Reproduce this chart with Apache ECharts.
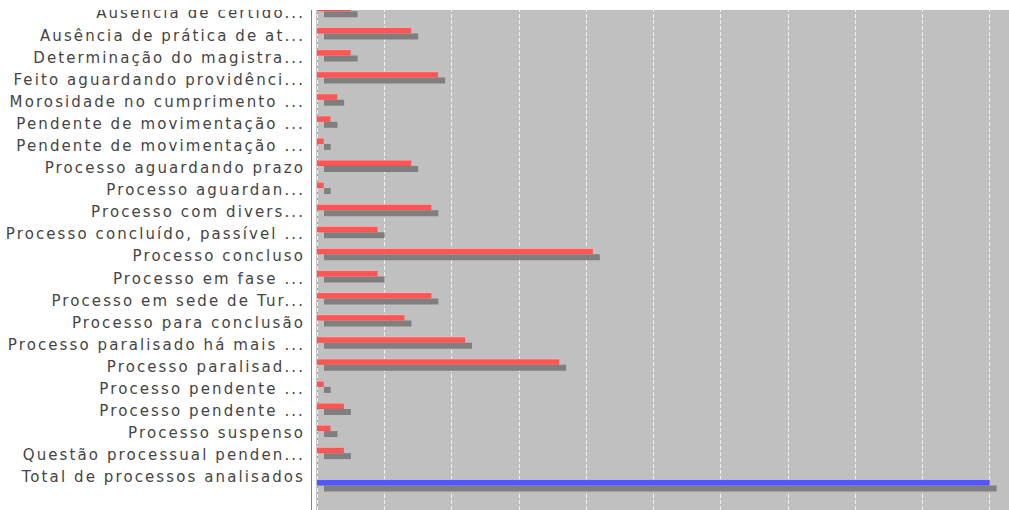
<!DOCTYPE html>
<html>
<head>
<meta charset="utf-8">
<script src="https://cdn.jsdelivr.net/npm/echarts@6/dist/echarts.min.js"></script>
<style>
    html, body { margin: 0; padding: 0; background: #fff; }
    #echarts-main { width: 1009px; height: 510px; }
    /* o gráfico original (Java) tem letras mais espaçadas */
    #echarts-main text { letter-spacing: 2.1px; }
</style>
</head>
<body>
<div id="echarts-main"></div>
<script>
    // categorias (como aparecem no gráfico, já truncadas)
    const categorias = [
        'Ausencia de certido...',
        'Ausência de prática de at...',
        'Determinação do magistra...',
        'Feito aguardando providênci...',
        'Morosidade no cumprimento ...',
        'Pendente de movimentação ...',
        'Pendente de movimentação ...',
        'Processo aguardando prazo',
        'Processo aguardan...',
        'Processo com divers...',
        'Processo concluído, passível ...',
        'Processo concluso',
        'Processo em fase ...',
        'Processo em sede de Tur...',
        'Processo para conclusão',
        'Processo paralisado há mais ...',
        'Processo paralisad...',
        'Processo pendente ...',
        'Processo pendente ...',
        'Processo suspenso',
        'Questão processual penden...',
        'Total de processos analisados'
    ]

    // valores por motivo (série vermelha)
    const valoresMotivo = [5, 14, 5, 18, 3, 2, 1, 14, 1, 17, 9, 41, 9, 17, 13, 22, 36, 1, 4, 2, 4, '-']

    // total (série azul)
    const valoresTotal = ['-', '-', '-', '-', '-', '-', '-', '-', '-', '-', '-', '-', '-', '-', '-', '-', '-', '-', '-', '-', '-', 100]

    const eixoMax = 110
    const eixoIntervalo = 10

    let chartDom = document.getElementById('echarts-main')
    let myChart = echarts.init(chartDom, null, { renderer: 'svg' })

    const gradiente = (claro, base, escuro) => new echarts.graphic.LinearGradient(0, 0, 0, 1, [
        { offset: 0, color: claro },
        { offset: 0.18, color: base },
        { offset: 0.75, color: base },
        { offset: 1, color: escuro }
    ])

    const sombra = {
        shadowColor: '#7f7f7f',
        shadowOffsetX: 7,
        shadowOffsetY: 6,
        shadowBlur: 0
    }

    const option = {
        animation: false,
        graphic: [
            {
                type: 'rect',
                left: 0,
                top: 0,
                z: 100,
                silent: true,
                shape: { width: 1009, height: 10 },
                style: { fill: '#ffffff' }
            }
        ],
        grid: [
            {
                left: 317, top: -10, width: 740, height: 530,
                outerBoundsMode: 'none',
                show: true,
                backgroundColor: '#c0c0c0',
                borderColor: '#8a8a8a',
                borderWidth: 1
            },
            {
                left: 317, top: 2.4, width: 740, height: 486,
                outerBoundsMode: 'none'
            }
        ],
        xAxis: [
            {
                gridIndex: 0,
                type: 'value',
                min: 0,
                max: eixoMax,
                interval: eixoIntervalo,
                axisLine: { show: false },
                axisTick: { show: false },
                axisLabel: { show: false },
                splitLine: {
                    show: true,
                    lineStyle: { color: '#f2f2f2', type: [4, 2], width: 1 }
                }
            },
            {
                gridIndex: 1,
                type: 'value',
                min: 0,
                max: eixoMax,
                interval: eixoIntervalo,
                show: false
            }
        ],
        yAxis: [
            {
                gridIndex: 0,
                type: 'value',
                min: 0,
                max: 1,
                offset: 6,
                axisLine: { show: true, onZero: false, lineStyle: { color: '#808080', width: 1 } },
                axisTick: { show: false },
                axisLabel: { show: false },
                splitLine: { show: false }
            },
            {
                gridIndex: 1,
                type: 'category',
                inverse: true,
                data: categorias,
                axisLine: { show: false },
                axisTick: { show: false },
                axisLabel: {
                    margin: 12,
                    color: '#444444',
                    fontFamily: 'DejaVu Sans',
                    fontSize: 15
                }
            }
        ],
        series: [
            {
                name: 'Motivo',
                type: 'bar',
                xAxisIndex: 1,
                yAxisIndex: 1,
                barWidth: 6,
                barGap: '70%',
                clip: false,
                data: valoresMotivo,
                itemStyle: Object.assign({
                    color: gradiente('#ffb4b4', '#ff5555', '#f24e4e')
                }, sombra)
            },
            {
                name: 'Total',
                type: 'bar',
                xAxisIndex: 1,
                yAxisIndex: 1,
                barWidth: 6,
                barGap: '70%',
                clip: false,
                data: valoresTotal,
                itemStyle: Object.assign({
                    color: gradiente('#b4b4ff', '#5555ff', '#4e4ef2')
                }, sombra)
            }
        ]
    }

    myChart.setOption(option)
</script>
</body>
</html>
